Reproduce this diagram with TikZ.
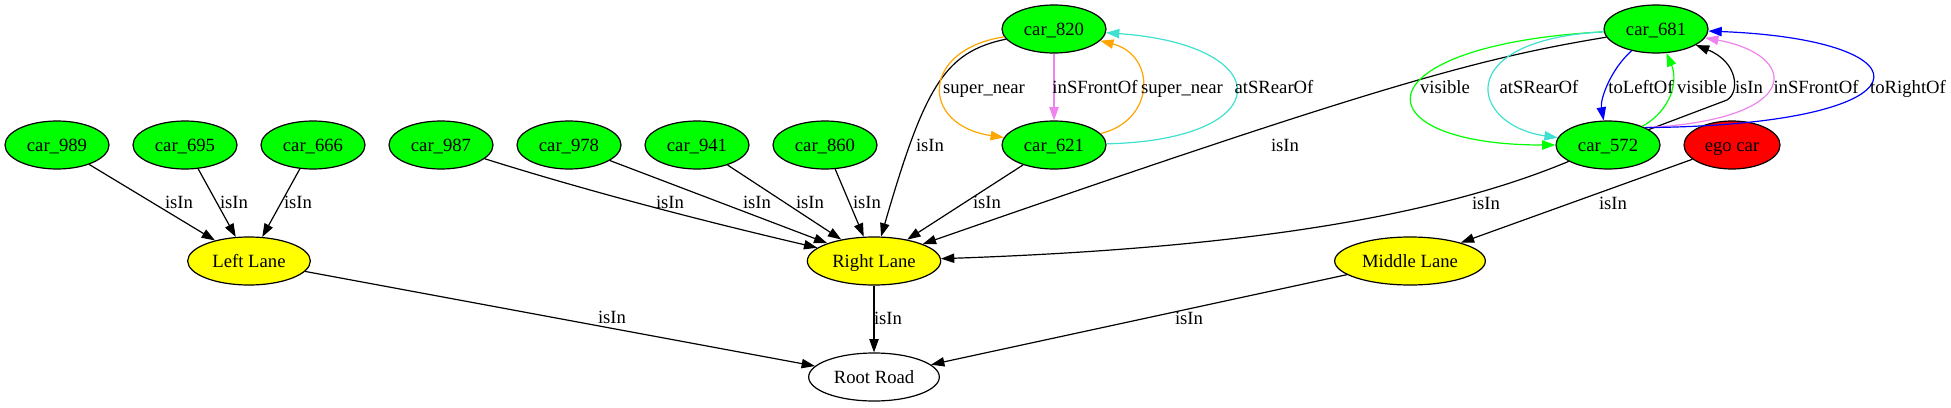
\documentclass[tikz,border=0pt]{standalone}
\usepackage{fontspec}
\setmainfont{Liberation Serif}
\usetikzlibrary{shapes.geometric, arrows.meta}

\definecolor{gvgreen}{RGB}{0,255,0}
\definecolor{gvyellow}{RGB}{255,255,0}
\definecolor{gvred}{RGB}{255,0,0}
\definecolor{gvorange}{RGB}{255,165,0}
\definecolor{gvviolet}{RGB}{238,130,238}
\definecolor{gvturq}{RGB}{64,224,208}
\definecolor{gvblue}{RGB}{0,0,255}

\begin{document}
\begin{tikzpicture}[x=0.75pt, y=-0.75pt, line width=0.9pt,
    every node/.style={font=\fontsize{14}{16}\selectfont, text height=9.5pt, text depth=0pt},
    carnode/.style={ellipse, draw, fill=gvgreen, minimum width=78pt, minimum height=36pt, inner sep=0pt},
    lanenode/.style={ellipse, draw, fill=gvyellow, minimum height=36pt, inner sep=0pt},
    rootnode/.style={ellipse, draw, minimum width=98pt, minimum height=36pt, inner sep=0pt},
    link/.style={-{Triangle[length=10pt, width=7pt]}},
    lbl/.style={inner sep=0pt}]
    \useasboundingbox (0, 0) rectangle (1951, 407);

    \node[carnode] (car989) at (57, 145) {car\_989};
    \node[carnode] (car695) at (185, 145) {car\_695};
    \node[carnode] (car666) at (313, 145) {car\_666};
    \node[carnode] (car987) at (441, 145) {car\_987};
    \node[carnode] (car978) at (569, 145) {car\_978};
    \node[carnode] (car941) at (697, 145) {car\_941};
    \node[carnode] (car860) at (825, 145) {car\_860};
    \node[carnode] (car820) at (1054, 29) {car\_820};
    \node[carnode] (car621) at (1054, 145) {car\_621};
    \node[carnode] (car681) at (1656, 29) {car\_681};
    \node[carnode] (car572) at (1608, 145) {car\_572};
    \node[carnode, fill=gvred, minimum width=72pt] (ego) at (1732, 145) {ego car};

    \node[lanenode, minimum width=92pt] (left) at (249, 261) {Left Lane};
    \node[lanenode, minimum width=100pt] (right) at (874, 261) {Right Lane};
    \node[lanenode, minimum width=113pt] (middle) at (1410, 261) {Middle Lane};
    \node[rootnode] (road) at (874, 377) {Root Road};

    \draw[link] (car989) -- (left);
    \draw[link] (car695) -- (left);
    \draw[link] (car666) -- (left);
    \draw[link] (left) -- (road);
    \draw[link] (car987) .. controls (600, 195) and (720, 225) .. (right);
    \draw[link] (car978) -- (right);
    \draw[link] (car941) -- (right);
    \draw[link] (car860) -- (right);
    \draw[link] (car820) .. controls (945, 52) and (925, 85) .. (right);
    \draw[link] (car621) -- (right);
    \draw[link] (car681) .. controls (1480, 58) and (1380, 85) .. (right);
    \draw[link] (car572) .. controls (1440, 215) and (1250, 248) .. (right);
    \draw[link] (right) -- (road);
    \draw[link] (ego) -- (middle);
    \draw[link] (middle) -- (road);

    \draw[link, gvorange] (car820) .. controls (920, 50) and (920, 125) .. (car621);
    \draw[link, gvviolet] (car820) -- (car621);
    \draw[link, gvorange] (car621) .. controls (1156, 120) and (1156, 55) .. (car820);
    \draw[link, gvturq] (car621) .. controls (1279, 140) and (1279, 45) .. (car820);

    \draw[link, gvgreen] (car681) .. controls (1357, 45) and (1357, 145) .. (car572);
    \draw[link, gvturq] (car681) .. controls (1450, 40) and (1470, 125) .. (car572);
    \draw[link, gvblue] (car681) .. controls (1610, 70) and (1600, 100) .. (car572);
    \draw[link, gvgreen] (car572) .. controls (1672, 110) and (1678, 80) .. (car681);
    \draw[link] (car572) -- (1727, 100) .. controls (1740, 92) and (1738, 62) .. (car681);
    \draw[link, gvviolet] (car572.north east) .. controls (1805, 120) and (1800, 55) .. (car681);
    \draw[link, gvblue] (car572.north east) .. controls (1936, 125) and (1936, 40) .. (car681);

    \node[lbl] (l989) at (179, 202) {isIn};
    \node[lbl] (l695) at (234, 202) {isIn};
    \node[lbl] (l666) at (298, 202) {isIn};
    \node[lbl] (lleft) at (612, 317) {isIn};
    \node[lbl] (l987) at (670, 202) {isIn};
    \node[lbl] (l978) at (757, 202) {isIn};
    \node[lbl] (l941) at (810, 202) {isIn};
    \node[lbl] (l860) at (867, 202) {isIn};
    \node[lbl] (l820) at (930, 145) {isIn};
    \node[lbl] (l621) at (987, 202) {isIn};
    \node[lbl] (l681) at (1285, 145) {isIn};
    \node[lbl] (l572) at (1486, 203) {isIn};
    \node[lbl] (lright) at (888, 318) {isIn};
    \node[lbl] (lego) at (1613, 203) {isIn};
    \node[lbl] (lmiddle) at (1189, 318) {isIn};

    \node[lbl] (nearl) at (984, 87) {super\_near};
    \node[lbl] (front820) at (1095, 87) {inSFrontOf};
    \node[lbl] (nearr) at (1182, 87) {super\_near};
    \node[lbl] (rear621) at (1274, 87) {atSRearOf};
    \node[lbl] (visl) at (1445, 87) {visible};
    \node[lbl] (rear681) at (1539, 87) {atSRearOf};
    \node[lbl] (leftof) at (1641, 87) {toLeftOf};
    \node[lbl] (visr) at (1702, 87) {visible};
    \node[lbl] (isin572) at (1749, 87) {isIn};
    \node[lbl] (front572) at (1816, 87) {inSFrontOf};
    \node[lbl] (rightof) at (1908, 87) {toRightOf};
\end{tikzpicture}
\end{document}
